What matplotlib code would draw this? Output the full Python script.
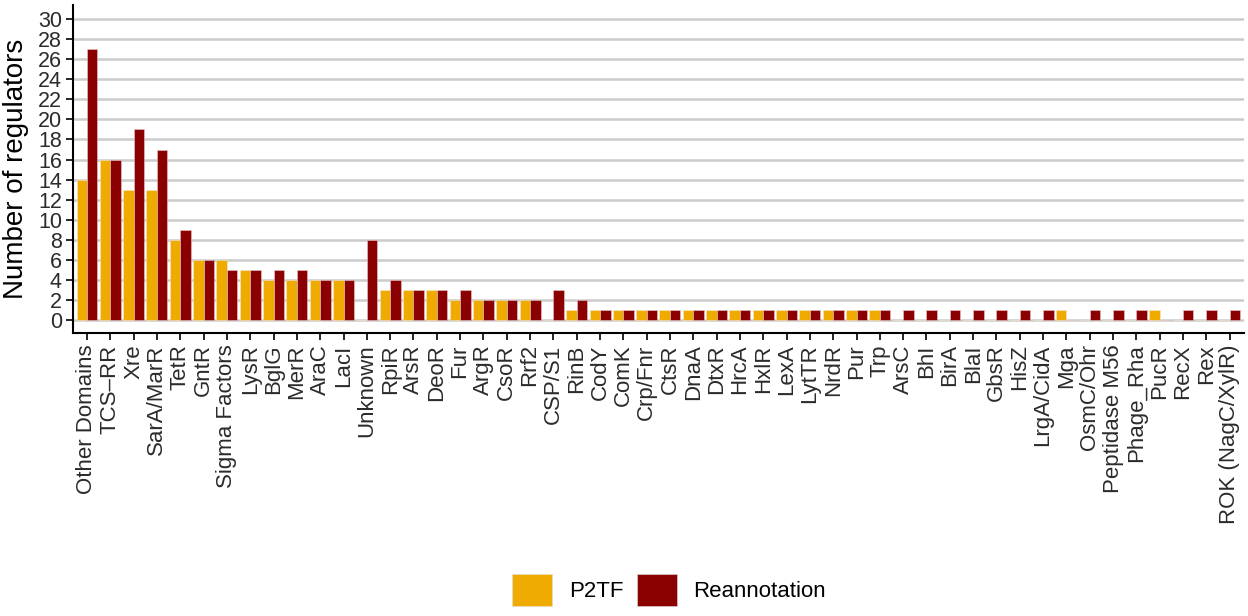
import numpy as np
import matplotlib
matplotlib.use("Agg")
import matplotlib.pyplot as plt
from matplotlib.patches import Patch

plt.rcParams['font.family'] = ['Liberation Sans', 'DejaVu Sans']

# categorias (orden del grafico)
dominios = ["Other Domains", "TCS\u2013RR", "Xre", "SarA/MarR", "TetR", "GntR",
            "Sigma Factors", "LysR", "BglG", "MerR", "AraC", "LacI", "Unknown",
            "RpiR", "ArsR", "DeoR", "Fur", "ArgR", "CsoR", "Rrf2", "CSP/S1",
            "RinB", "CodY", "ComK", "Crp/Fnr", "CtsR", "DnaA", "DtxR", "HrcA",
            "HxlR", "LexA", "LytTR", "NrdR", "Pur", "Trp", "ArsC", "BhI", "BirA",
            "BlaI", "GbsR", "HisZ", "LrgA/CidA", "Mga", "OsmC/Ohr",
            "Peptidase M56", "Phage_Rha", "PucR", "RecX", "Rex", "ROK (NagC/XylR)"]

p2tf = [14, 16, 13, 13, 8, 6, 6, 5, 4, 4, 4, 4, 0, 3, 3, 3, 2, 2, 2, 2, 0,
        1, 1, 1, 1, 1, 1, 1, 1, 1, 1, 1, 1, 1, 1, 0, 0, 0, 0, 0, 0, 0, 1, 0,
        0, 0, 1, 0, 0, 0]
reanotacion = [27, 16, 19, 17, 9, 6, 5, 5, 5, 5, 4, 4, 8, 4, 3, 3, 3, 2, 2, 2, 3,
               2, 1, 1, 1, 1, 1, 1, 1, 1, 1, 1, 1, 1, 1, 1, 1, 1, 1, 1, 1, 1, 0, 1,
               1, 1, 0, 1, 1, 1]

color_p2tf = '#F0AB00'
color_re = '#8B0000'

fig = plt.figure(figsize=(12.48, 6.16), dpi=100)
ax = fig.add_axes([0.0585, 0.459, 0.938, 0.533])

x = np.arange(len(dominios))
ancho = 0.45
ax.bar(x - ancho / 2, p2tf, width=ancho, color=color_p2tf, edgecolor='#f3e6d0',
       linewidth=0.4, zorder=3)
ax.bar(x + ancho / 2, reanotacion, width=ancho, color=color_re, edgecolor='#e8c8c8',
       linewidth=0.4, zorder=3)

ax.set_xlim(-0.6, len(dominios) - 0.4)
ax.set_ylim(-1.3, 31.4)
ax.set_yticks(range(0, 31, 2))
ax.set_xticks(x)
ax.set_xticklabels(dominios, rotation=90, fontsize=16, color='#2b2b2b')
ax.tick_params(axis='y', labelsize=15.5, labelcolor='#2b2b2b', length=5, width=1.2, pad=3)
ax.tick_params(axis='x', length=5, width=1.2, pad=3)
ax.yaxis.grid(True, color='#cccccc', linewidth=1.8, zorder=0)
ax.set_axisbelow(True)
for lado in ['top', 'right']:
    ax.spines[lado].set_visible(False)
for lado in ['left', 'bottom']:
    ax.spines[lado].set_linewidth(1.5)
ax.set_ylabel('Number of regulators', fontsize=20, labelpad=6)

handles = [Patch(facecolor=color_p2tf, edgecolor='#dddddd', linewidth=0.4),
           Patch(facecolor=color_re, edgecolor='#dddddd', linewidth=0.4)]
fig.legend(handles, ['P2TF', 'Reannotation'], loc='center', ncol=2,
           bbox_to_anchor=(0.536, 0.042), frameon=False, fontsize=16,
           handlelength=1.8, handleheight=1.8, handletextpad=0.75,
           columnspacing=0.6)

fig.savefig('out.png', dpi=100)
